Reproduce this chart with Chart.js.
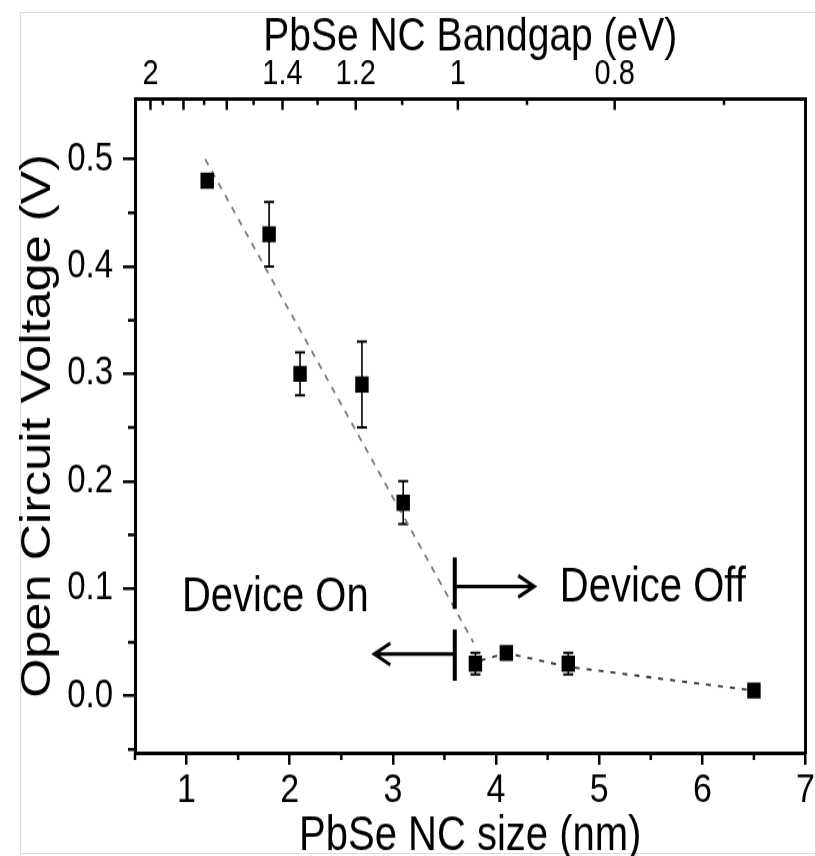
<!DOCTYPE html>
<html>
<head>
<meta charset="utf-8">
<title>PbSe NC size vs open circuit voltage</title>
<script src="https://cdn.jsdelivr.net/npm/chart.js"></script>
<style>
  html, body { margin: 0; padding: 0; background: #fff; }
  #wrap { position: relative; width: 815px; height: 856px; overflow: hidden; }
  #frame { position: absolute; left: 20px; top: 12px; width: 820px; height: 842px; border: 1px solid #dcdcdc; box-sizing: border-box; }
  #chart { position: absolute; left: 0; top: 0; }
</style>
</head>
<body>
<div id="wrap">
  <div id="frame"></div>
  <!-- the original figure is stretched vertically, so the canvas is drawn short and scaled up -->
  <canvas id="chart" width="815" height="713" style="width:815px;height:856px"></canvas>
</div>
<script>
// measured points
const sizes  = [1.2, 1.8, 2.1, 2.7, 3.1, 3.8, 4.1, 4.7, 6.5];
const voc    = [0.48, 0.43, 0.30, 0.29, 0.18, 0.03, 0.04, 0.03, 0.005];
const vocErr = [0, 0.03, 0.02, 0.04, 0.02, 0.01, 0, 0.01, 0];

// dashed guide lines
const steepX = [1.18, 3.78];
const steepY = [0.50, 0.05];
const flatX  = [3.85, 4.1, 4.7, 6.5];
const flatY  = [0.033, 0.04, 0.027, 0.005];

// axis ticks
const sizeMinor = [0.5, 1.5, 2.5, 3.5, 4.5, 5.5, 6.5];
const vocMinor  = [-0.05, 0.05, 0.15, 0.25, 0.35, 0.45];
// top axis: bandgap (eV) and the NC size (nm) where each tick sits
const gapTicks    = [2, 1.9, 1.8, 1.7, 1.6, 1.5, 1.4, 1.3, 1.2, 1.1, 1, 0.9, 0.8, 0.7];
const gapTickSize = [0.65, 0.77, 0.97, 1.17, 1.39, 1.65, 1.93, 2.27, 2.64, 3.09, 3.63, 4.30, 5.15, 6.21];
const gapLabels   = [2, 1.4, 1.2, 1, 0.8];

// on / off annotation
const cutSize    = 3.6;
const cutBars    = [[0.081, 0.129], [0.014, 0.062]];
const arrowY     = [0.102, 0.039];
const arrowEnd   = [4.37, 2.82];
const noteText   = ['Device On', 'Device Off'];
const noteX      = [1.86, 5.52];
const noteY      = [0.091, 0.100];

const xMin = 0.5, xMax = 7, yMin = -0.053, yMax = 0.556;

Chart.defaults.font.family = '"Liberation Sans", Arial, sans-serif';
Chart.defaults.color = '#000';

function noPad(scale) {
    scale.paddingLeft = 0; scale.paddingRight = 0;
    scale.paddingTop = 0; scale.paddingBottom = 0;
}

const errorBars = {
    id: 'errorBars',
    beforeDatasetsDraw(chart) {
        const ctx = chart.ctx, x = chart.scales.x, y = chart.scales.y;
        ctx.save();
        ctx.strokeStyle = '#000';
        sizes.forEach((s, i) => {
            if (!vocErr[i]) return;
            const px = x.getPixelForValue(s);
            const top = y.getPixelForValue(voc[i] + vocErr[i]);
            const bot = y.getPixelForValue(voc[i] - vocErr[i]);
            ctx.lineWidth = 1.6;
            ctx.beginPath();
            ctx.moveTo(px, top); ctx.lineTo(px, bot);
            ctx.stroke();
            ctx.lineWidth = 2;
            ctx.beginPath();
            ctx.moveTo(px - 5, top); ctx.lineTo(px + 5, top);
            ctx.moveTo(px - 5, bot); ctx.lineTo(px + 5, bot);
            ctx.stroke();
        });
        ctx.restore();
    }
};

const extraTicks = {
    id: 'extraTicks',
    afterDraw(chart) {
        const {ctx, chartArea: a, scales} = chart;
        ctx.save();
        ctx.strokeStyle = '#000';
        ctx.lineWidth = 2.5;
        ctx.beginPath();
        sizeMinor.forEach(v => {
            const px = scales.x.getPixelForValue(v);
            ctx.moveTo(px, a.bottom); ctx.lineTo(px, a.bottom + 6);
        });
        vocMinor.forEach(v => {
            const py = scales.y.getPixelForValue(v);
            ctx.moveTo(a.left, py); ctx.lineTo(a.left - 7, py);
        });
        gapTickSize.forEach((v, i) => {
            const px = scales.x2.getPixelForValue(v);
            const len = Math.round(gapTicks[i] * 10) % 2 === 0 ? 9 : 5;
            ctx.moveTo(px, a.top); ctx.lineTo(px, a.top + len);
        });
        ctx.stroke();
        ctx.restore();
    }
};

const onOff = {
    id: 'onOff',
    afterDatasetsDraw(chart) {
        const ctx = chart.ctx, x = chart.scales.x, y = chart.scales.y;
        const cx = x.getPixelForValue(cutSize);
        ctx.save();
        ctx.strokeStyle = '#000';
        ctx.lineWidth = 4;
        ctx.beginPath();
        cutBars.forEach(b => {
            ctx.moveTo(cx, y.getPixelForValue(b[0]));
            ctx.lineTo(cx, y.getPixelForValue(b[1]));
        });
        ctx.stroke();
        ctx.lineWidth = 3;
        arrowY.forEach((v, i) => {
            const py = y.getPixelForValue(v);
            const ex = x.getPixelForValue(arrowEnd[i]);
            const dir = ex > cx ? 1 : -1;
            ctx.beginPath();
            ctx.moveTo(cx, py); ctx.lineTo(ex, py);
            ctx.moveTo(ex - dir * 16, py - 9); ctx.lineTo(ex, py); ctx.lineTo(ex - dir * 16, py + 9);
            ctx.stroke();
        });
        ctx.fillStyle = '#000';
        ctx.font = '40px "Liberation Sans", Arial, sans-serif';
        ctx.textAlign = 'center';
        ctx.textBaseline = 'middle';
        noteText.forEach((t, i) => {
            ctx.fillText(t, x.getPixelForValue(noteX[i]), y.getPixelForValue(noteY[i]));
        });
        ctx.restore();
    }
};

new Chart(document.getElementById('chart'), {
    type: 'scatter',
    data: {
        datasets: [{
            label: 'Voc',
            data: sizes.map((s, i) => ({x: s, y: voc[i]})),
            pointStyle: 'rect',
            pointRadius: 9.5,
            backgroundColor: '#000',
            borderWidth: 0,
            order: 0
        }, {
            label: 'fit on',
            data: steepX.map((s, i) => ({x: s, y: steepY[i]})),
            showLine: true,
            borderColor: '#7a7a7a',
            borderWidth: 1.8,
            borderDash: [6, 6],
            pointRadius: 0,
            order: 1
        }, {
            label: 'fit off',
            data: flatX.map((s, i) => ({x: s, y: flatY[i]})),
            showLine: true,
            borderColor: '#333',
            borderWidth: 1.8,
            borderDash: [5, 7],
            pointRadius: 0,
            order: 1
        }]
    },
    options: {
        responsive: false,
        animation: false,
        devicePixelRatio: 1,
        layout: { padding: { left: 0, right: 8, top: 0, bottom: 0 } },
        plugins: { legend: { display: false }, tooltip: { enabled: false } },
        scales: {
            x: {
                type: 'linear', position: 'bottom', min: xMin, max: xMax,
                ticks: { stepSize: 1, includeBounds: false, padding: 1, font: { size: 34 } },
                grid: { drawOnChartArea: false, drawTicks: true, tickLength: 10, lineWidth: 2.5, color: '#000' },
                border: { display: true, width: 3, color: '#000' },
                title: { display: true, text: 'PbSe NC size (nm)', font: { size: 40, lineHeight: 0.8 }, padding: 0 },
                afterFit(s) { s.height = 86; noPad(s); }
            },
            x2: {
                type: 'linear', position: 'top', min: xMin, max: xMax,
                afterBuildTicks(s) {
                    s.ticks = gapLabels.map(g => ({ value: gapTickSize[gapTicks.indexOf(g)] }));
                },
                ticks: { autoSkip: false, padding: 3, font: { size: 29 },
                         callback: (v, i) => String(gapLabels[i]) },
                grid: { display: false, drawTicks: false },
                border: { display: true, width: 3, color: '#000' },
                title: { display: true, text: 'PbSe NC Bandgap (eV)', font: { size: 39 }, padding: { top: 8, bottom: 0 } },
                afterFit(s) { s.height = 82.5; noPad(s); }
            },
            y: {
                type: 'linear', position: 'left', min: yMin, max: yMax,
                ticks: { stepSize: 0.1, includeBounds: false, padding: 10, font: { size: 33 },
                         callback: v => v.toFixed(1) },
                grid: { drawOnChartArea: false, drawTicks: true, tickLength: 12, lineWidth: 2.5, color: '#000' },
                border: { display: true, width: 3, color: '#000' },
                title: { display: true, text: 'Open Circuit Voltage (V)', font: { size: 42 }, padding: { top: 13, bottom: 0 } },
                afterFit(s) { s.width = 135; noPad(s); }
            },
            y2: {
                type: 'linear', position: 'right', min: yMin, max: yMax,
                ticks: { display: false },
                grid: { display: false, drawTicks: false },
                border: { display: true, width: 3, color: '#000' },
                afterFit(s) { s.width = 0; noPad(s); }
            }
        }
    },
    plugins: [errorBars, extraTicks, onOff]
});
</script>
</body>
</html>
